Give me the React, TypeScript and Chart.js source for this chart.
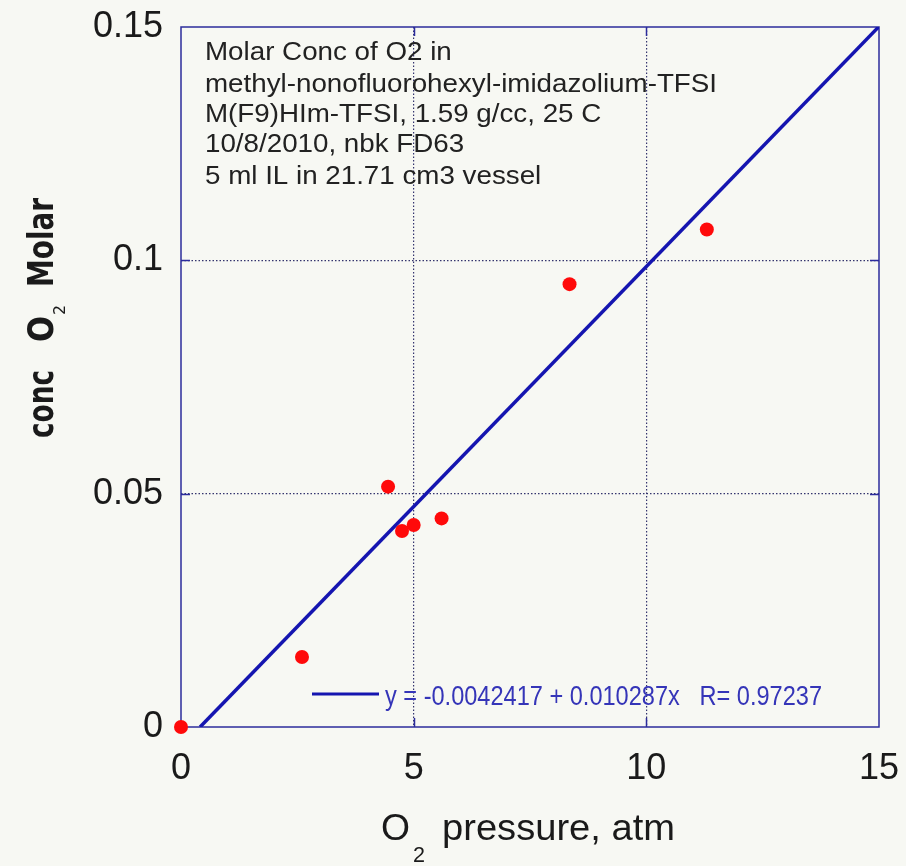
import React, { useEffect, useRef } from "react";
import { Chart, registerables } from "chart.js";

Chart.register(...registerables);

// ---- data ----
const pressureAtm = [0, 2.6, 4.45, 4.75, 5.0, 5.6, 8.35, 11.3];
const concMolar = [0, 0.015, 0.0515, 0.042, 0.0433, 0.0447, 0.0949, 0.1066];
// regression line end points (y = -0.0042417 + 0.010287x)
const fitX = [0.41, 15];
const fitY = [0, 0.1501];
const xTicks = [0, 5, 10, 15];
const yTicks = [0, 0.05, 0.1, 0.15];
const xTickLabels = ["0", "5", "10", "15"];
const yTickLabels = ["0", "0.05", "0.1", "0.15"];
const noteLines = [
  "Molar Conc of O2 in",
  "methyl-nonofluorohexyl-imidazolium-TFSI",
  "M(F9)HIm-TFSI, 1.59 g/cc, 25 C",
  "10/8/2010, nbk FD63",
  "5 ml IL in 21.71 cm3 vessel",
];
const legendText = "y = -0.0042417 + 0.010287x   R= 0.97237";

const BG = "#f7f8f3";
const FRAME = "#2c2c9c";
const GRID = "#34346e";
const FIT = "#1515b0";
const LEGEND = "#3535b8";
const SANS = "'Liberation Sans', Arial, sans-serif";
const NARROW = "'Liberation Sans Narrow', 'DejaVu Sans Condensed', 'Liberation Sans', sans-serif";

function fitText(ctx: CanvasRenderingContext2D, text: string, x: number, y: number, width: number) {
  const m = ctx.measureText(text).width;
  const s = width / m;
  ctx.save();
  ctx.translate(x, y);
  ctx.scale(s, 1);
  ctx.fillText(text, 0, 0);
  ctx.restore();
}

const decor = {
  id: "decor",
  beforeDraw(chart: any) {
    const { ctx, width, height } = chart;
    ctx.save();
    ctx.fillStyle = BG;
    ctx.fillRect(0, 0, width, height);
    ctx.restore();
  },
  beforeDatasetsDraw(chart: any) {
    const { ctx, chartArea: a, scales } = chart;
    ctx.save();
    ctx.strokeStyle = FRAME;
    ctx.lineWidth = 1.5;
    ctx.strokeRect(a.left, a.top, a.right - a.left, a.bottom - a.top);
    ctx.beginPath();
    const tl = 9;
    for (const v of xTicks.slice(1, -1)) {
      const px = Math.round(scales.x.getPixelForValue(v)) + 0.5;
      ctx.moveTo(px, a.bottom);
      ctx.lineTo(px, a.bottom - tl);
      ctx.moveTo(px, a.top);
      ctx.lineTo(px, a.top + tl);
    }
    for (const v of yTicks.slice(1, -1)) {
      const py = Math.round(scales.y.getPixelForValue(v)) + 0.5;
      ctx.moveTo(a.left, py);
      ctx.lineTo(a.left + tl, py);
      ctx.moveTo(a.right, py);
      ctx.lineTo(a.right - tl, py);
    }
    ctx.stroke();
    ctx.restore();
  },
  afterDraw(chart: any) {
    const { ctx } = chart;
    ctx.save();
    // annotation block
    ctx.fillStyle = "#222222";
    ctx.font = `25px ${SANS}`;
    ctx.textBaseline = "alphabetic";
    const s = 512 / ctx.measureText(noteLines[1]).width;
    const base = [60, 92, 122, 152, 184];
    noteLines.forEach((t, i) => {
      ctx.save();
      ctx.translate(205, base[i]);
      ctx.scale(s, 1);
      ctx.fillText(t, 0, 0);
      ctx.restore();
    });
    // legend
    ctx.strokeStyle = FIT;
    ctx.lineWidth = 3;
    ctx.beginPath();
    ctx.moveTo(312, 694);
    ctx.lineTo(379, 694);
    ctx.stroke();
    ctx.fillStyle = LEGEND;
    ctx.font = `27px ${SANS}`;
    fitText(ctx, legendText, 385, 705, 437);
    // x title
    ctx.fillStyle = "#1a1a1a";
    ctx.font = `37px ${SANS}`;
    fitText(ctx, "O", 381, 840, 29);
    ctx.font = `22px ${SANS}`;
    fitText(ctx, "2", 413, 862, 12);
    ctx.font = `37px ${SANS}`;
    fitText(ctx, "pressure, atm", 442, 840, 233);
    // y title (rotated)
    ctx.translate(53, 438);
    ctx.rotate(-Math.PI / 2);
    ctx.font = `bold 36px ${NARROW}`;
    fitText(ctx, "conc", 0, 0, 68);
    fitText(ctx, "O", 96, 0, 26);
    ctx.font = `16px ${NARROW}`;
    fitText(ctx, "2", 123, 12, 10);
    ctx.font = `bold 36px ${NARROW}`;
    fitText(ctx, "Molar", 151, 0, 89);
    ctx.restore();
  },
};

export default function App() {
  const ref = useRef<HTMLCanvasElement | null>(null);
  useEffect(() => {
    if (!ref.current) return;
    const chart = new Chart(ref.current, {
      type: "scatter",
      data: {
        datasets: [
          {
            label: "data",
            data: pressureAtm.map((x, i) => ({ x, y: concMolar[i] })),
            pointRadius: 7,
            pointHoverRadius: 7,
            pointBackgroundColor: "#ff0a0a",
            pointBorderWidth: 0,
            clip: false as any,
          },
          {
            label: "fit",
            type: "line" as any,
            data: fitX.map((x, i) => ({ x, y: fitY[i] })),
            borderColor: FIT,
            borderWidth: 3.5,
            pointRadius: 0,
            fill: false,
          },
        ],
      },
      options: {
        animation: false,
        responsive: true,
        maintainAspectRatio: false,
        layout: { padding: { left: 0, top: 27, right: 27, bottom: 0 } },
        plugins: { legend: { display: false }, tooltip: { enabled: false } },
        events: [],
        scales: {
          x: {
            type: "linear",
            min: 0,
            max: 15,
            afterFit: (s: any) => {
              s.height = 139;
              s.paddingLeft = 0;
              s.paddingRight = 0;
            },
            afterBuildTicks: (s: any) => {
              s.ticks = xTicks.map((v) => ({ value: v }));
            },
            ticks: {
              padding: 20,
              color: "#1a1a1a",
              font: { family: SANS, size: 36 },
              callback: (v: any) => xTickLabels[xTicks.indexOf(Number(v))] ?? "",
              maxRotation: 0,
            },
            grid: {
              drawTicks: false,
              color: (c: any) => (c.tick && (c.tick.value === 0 || c.tick.value === 15) ? "rgba(0,0,0,0)" : GRID),
              lineWidth: 1.2,
            },
            border: { display: false, dash: [1.5, 2] },
          },
          y: {
            type: "linear",
            min: 0,
            max: 0.15,
            afterFit: (s: any) => {
              s.width = 181;
              s.paddingTop = 0;
              s.paddingBottom = 0;
            },
            afterBuildTicks: (s: any) => {
              s.ticks = yTicks.map((v) => ({ value: v }));
            },
            ticks: {
              padding: 18,
              color: "#1a1a1a",
              font: { family: SANS, size: 36 },
              callback: (v: any) => {
                const i = yTicks.findIndex((t) => Math.abs(t - Number(v)) < 1e-9);
                return i >= 0 ? yTickLabels[i] : "";
              },
            },
            grid: {
              drawTicks: false,
              color: (c: any) => (c.tick && (c.tick.value === 0 || Math.abs(c.tick.value - 0.15) < 1e-9) ? "rgba(0,0,0,0)" : GRID),
              lineWidth: 1.2,
            },
            border: { display: false, dash: [1.5, 2] },
          },
        },
      },
      plugins: [decor],
    });
    return () => chart.destroy();
  }, []);
  return (
    <div style={{ position: "absolute", left: 0, top: 0, width: 906, height: 866 }}>
      <canvas ref={ref} />
    </div>
  );
}
